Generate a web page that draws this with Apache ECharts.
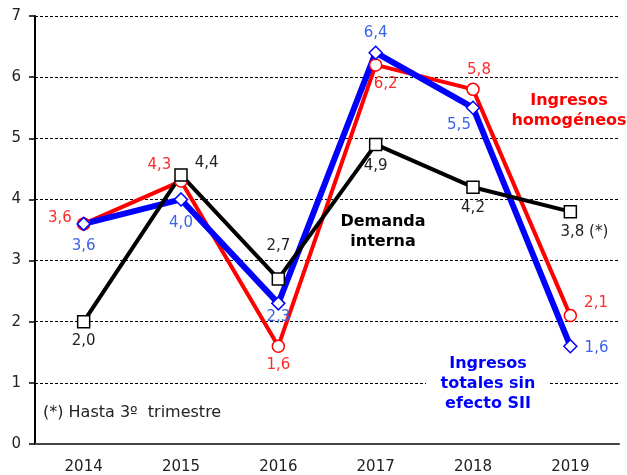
<!DOCTYPE html>
<html>
<head>
<meta charset="utf-8">
<script src="https://cdn.jsdelivr.net/npm/echarts@6/dist/echarts.min.js"></script>
<style>
  html, body { margin: 0; padding: 0; background: #fff; }
  #chart { width: 627px; height: 475px; }
</style>
</head>
<body>
<div id="chart"></div>
<script>
const years = ['2014', '2015', '2016', '2017', '2018', '2019'];
const homogeneos = [3.6, 4.3, 1.6, 6.2, 5.8, 2.1];
const totalesSinSII = [3.6, 4.0, 2.3, 6.4, 5.5, 1.6];
const demandaInterna = [2.0, 4.4, 2.7, 4.9, 4.2, 3.8];

const font = '"DejaVu Sans", Verdana, sans-serif';
const fmt = v => v.toFixed(1).replace('.', ',');

// label placement per point, same order as years
const redPos = [['left', [0, -6]], ['left', [2, -16]], ['bottom', [0, 0]], ['bottom', [10, 0]], ['top', [6, 0]], ['right', [2, -12]]];
const bluePos = [['bottom', [0, 2]], ['bottom', [0, 4]], ['bottom', [0, -6]], ['top', [0, 0]], ['bottom', [-14, -2]], ['right', [2, 2]]];
const blackPos = [['bottom', [0, 0]], ['right', [2, -12]], ['top', [0, -14]], ['bottom', [0, 2]], ['bottom', [0, 2]], ['bottom', [14, 1]]];

function points(values, pos, suffix) {
  return values.map((v, i) => ({
    value: v,
    label: {
      position: pos[i][0],
      offset: pos[i][1],
      formatter: () => fmt(v) + (suffix && i === values.length - 1 ? suffix : '')
    }
  }));
}

function line(name, values, pos, color, labelColor, width, symbol, size, suffix) {
  return {
    name: name,
    type: 'line',
    data: points(values, pos, suffix),
    symbol: symbol,
    symbolSize: size,
    showAllSymbol: true,
    lineStyle: { color: color, width: width },
    itemStyle: { color: '#fff', borderColor: color, borderWidth: 1.5 },
    label: { show: true, color: labelColor, fontFamily: font, fontSize: 15, distance: 5 },
    emphasis: { disabled: true },
    animation: false
  };
}

const chart = echarts.init(document.getElementById('chart'));
chart.setOption({
  backgroundColor: '#fff',
  grid: { left: 35, right: 8, top: 16, bottom: 31 },
  xAxis: {
    type: 'category',
    data: years,
    boundaryGap: true,
    axisLine: { lineStyle: { color: '#444', width: 2 } },
    axisTick: { show: false },
    axisLabel: { color: '#222', fontFamily: font, fontSize: 15, margin: 16 }
  },
  yAxis: {
    type: 'value',
    min: 0,
    max: 7,
    interval: 1,
    axisLine: { show: true, lineStyle: { color: '#000', width: 2 } },
    axisTick: { show: true, length: 6, lineStyle: { color: '#000', width: 1.5 } },
    axisLabel: { color: '#222', fontFamily: font, fontSize: 15, margin: 14 },
    splitLine: { lineStyle: { color: '#000', type: [3, 2], width: 1 } }
  },
  series: [
    line('Ingresos homogéneos', homogeneos, redPos, '#ff0000', '#ff2a2a', 4, 'circle', 12),
    line('Ingresos totales sin efecto SII', totalesSinSII, bluePos, '#0000ff', '#3b63e6', 6, 'diamond', 13),
    line('Demanda interna', demandaInterna, blackPos, '#000000', '#222', 4, 'rect', 12, ' (*)')
  ],
  graphic: [
    {
      type: 'text', x: 569, y: 91, z: 10,
      style: { text: 'Ingresos\nhomogéneos', fill: '#ff0000', font: 'bold 16px ' + font, align: 'center', verticalAlign: 'top', lineHeight: 20 }
    },
    {
      type: 'text', x: 383, y: 212, z: 10,
      style: { text: 'Demanda\ninterna', fill: '#000', font: 'bold 16px ' + font, align: 'center', verticalAlign: 'top', lineHeight: 20 }
    },
    {
      type: 'rect', shape: { x: 426, y: 377, width: 124, height: 13 },
      style: { fill: '#fff' }, z: 9
    },
    {
      type: 'text', x: 488, y: 354, z: 10,
      style: { text: 'Ingresos\ntotales sin\nefecto SII', fill: '#0000ff', font: 'bold 16px ' + font, align: 'center', verticalAlign: 'top', lineHeight: 20 }
    },
    {
      type: 'text', x: 43, y: 405, z: 10,
      style: { text: '(*) Hasta 3º  trimestre', fill: '#222', font: '16px ' + font, verticalAlign: 'top' }
    }
  ]
});
</script>
</body>
</html>
